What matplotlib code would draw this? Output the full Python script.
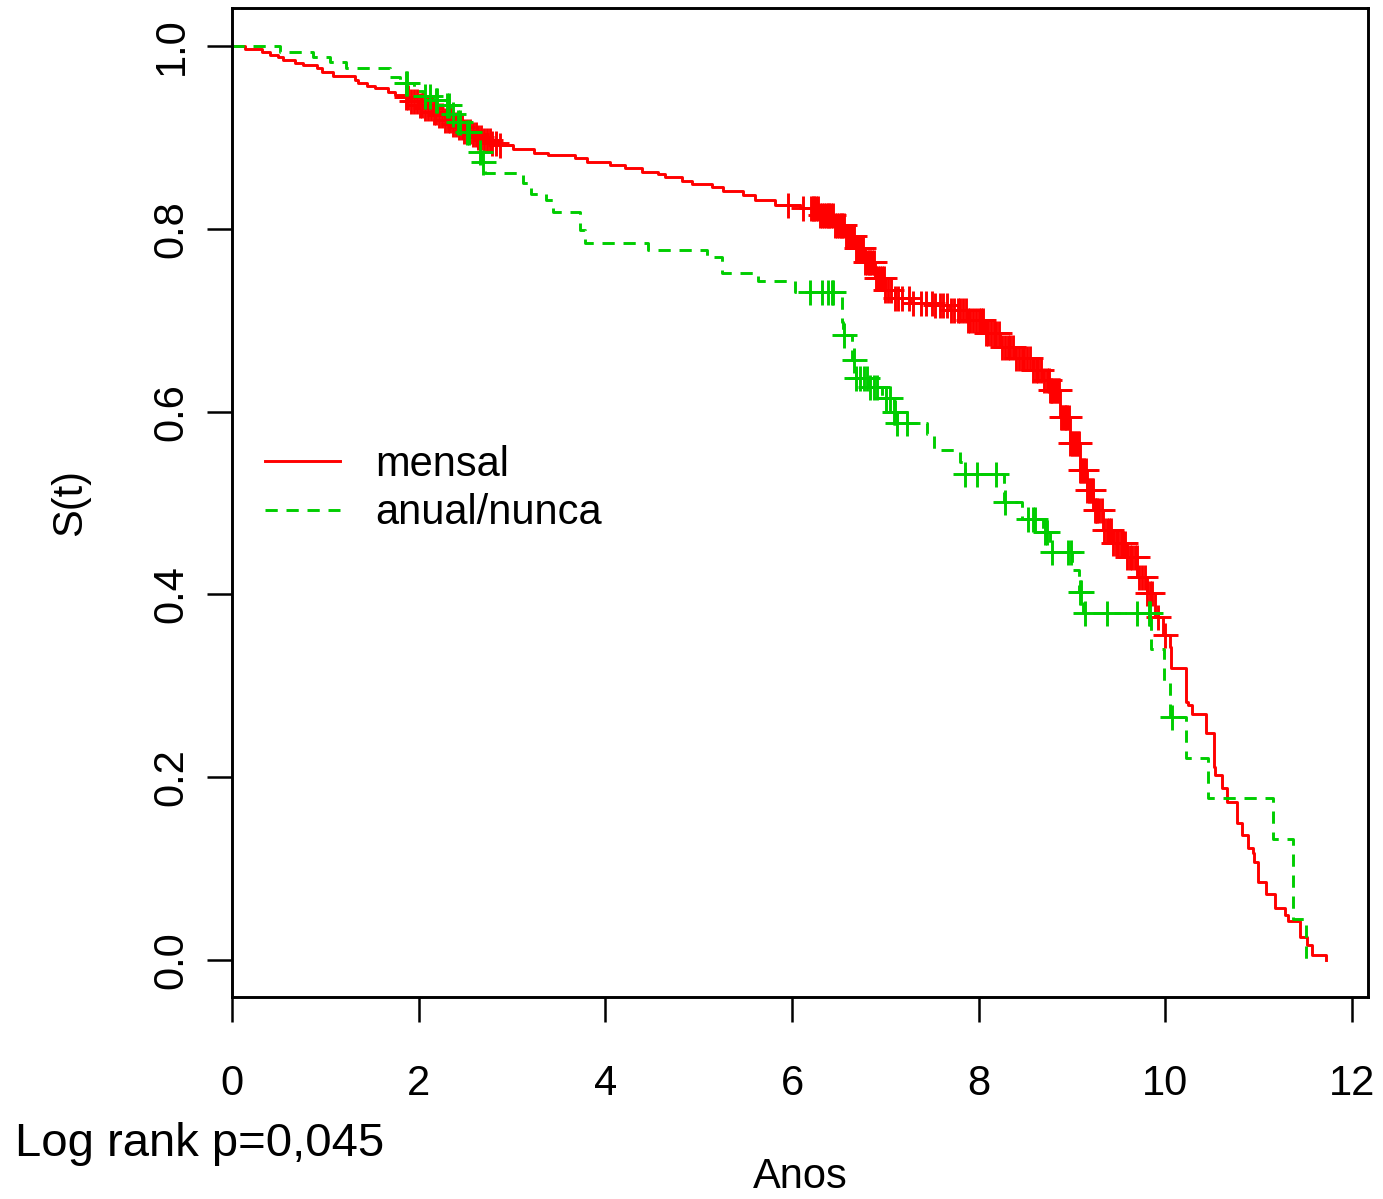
import numpy as np
import matplotlib
matplotlib.use("Agg")
import matplotlib.pyplot as plt

plt.rcParams['font.family'] = ['Liberation Sans', 'DejaVu Sans']

# ---------------- data ----------------
series_names = ["mensal", "anual/nunca"]

# mensal: event times (years) and survival after each event
mensal_t = [0.139, 0.318, 0.407, 0.496, 0.55, 0.675, 0.764, 0.907, 0.961, 1.086,
            1.318, 1.354, 1.443, 1.532, 1.675, 1.75,
            1.85, 1.92, 2.0, 2.07, 2.14, 2.21, 2.28, 2.35, 2.42, 2.49, 2.56, 2.63,
            2.70, 2.78, 2.87,
            3.014, 3.23, 3.39, 3.675, 3.80, 4.05, 4.21, 4.39, 4.567, 4.64, 4.82,
            4.925, 5.14, 5.264, 5.478, 5.60, 5.82,
            6.086, 6.30, 6.46, 6.57, 6.675, 6.78, 6.89, 7.0, 7.10, 7.26, 7.51, 7.69,
            7.87, 8.07, 8.23, 8.39, 8.58, 8.69, 8.76, 8.87, 8.98, 9.086, 9.157,
            9.225, 9.33, 9.44, 9.586, 9.693, 9.80, 9.889, 9.975, 10.05, 10.06,
            10.22, 10.24, 10.28, 10.436, 10.52, 10.53, 10.61, 10.66, 10.77, 10.82,
            10.886, 10.94, 10.95, 10.99, 11.08, 11.175, 11.28, 11.31, 11.44, 11.52,
            11.57, 11.72]
mensal_s = [0.9964, 0.9938, 0.9902, 0.9876, 0.9847, 0.9817, 0.9792, 0.9756, 0.9719, 0.9672,
            0.9628, 0.9599, 0.9562, 0.9537, 0.950, 0.9464,
            0.944, 0.940, 0.936, 0.932, 0.928, 0.924, 0.919, 0.915, 0.911, 0.907, 0.904, 0.900,
            0.897, 0.894, 0.8917,
            0.887, 0.8833, 0.8807, 0.877, 0.8734, 0.8698, 0.8662, 0.8625, 0.860, 0.857, 0.8526,
            0.849, 0.8454, 0.8417, 0.837, 0.832, 0.8257,
            0.8228, 0.815, 0.804, 0.792, 0.779, 0.764, 0.746, 0.733, 0.724, 0.719, 0.7166, 0.711,
            0.700, 0.686, 0.671, 0.659, 0.6455, 0.6346, 0.6236, 0.594, 0.5656, 0.536, 0.514,
            0.492, 0.470, 0.456, 0.441, 0.419, 0.4015, 0.375, 0.3556, 0.3425, 0.319,
            0.2826, 0.279, 0.269, 0.248, 0.2115, 0.2024, 0.188, 0.1732, 0.150, 0.1368,
            0.1222, 0.1167, 0.1075, 0.0857, 0.0722, 0.0569, 0.0492, 0.0427, 0.0255, 0.0164,
            0.0055, 0.0]
mensal_cens = [1.86, 1.89, 1.92, 1.95, 1.98, 2.01, 2.04, 2.07, 2.10, 2.13, 2.16, 2.19,
               2.22, 2.25, 2.28, 2.31, 2.34, 2.37, 2.40, 2.43, 2.46, 2.49, 2.52, 2.55,
               2.58, 2.61, 2.64, 2.67, 2.70, 2.73, 2.76, 2.79, 2.83, 2.87,
               5.96, 6.12, 6.20, 6.22, 6.24, 6.26, 6.28, 6.30, 6.32, 6.34, 6.36, 6.38,
               6.40, 6.42, 6.44, 6.46, 6.48, 6.50, 6.52, 6.54, 6.56, 6.58, 6.60, 6.62,
               6.64, 6.66, 6.68, 6.70, 6.72, 6.74, 6.76, 6.78, 6.80, 6.82, 6.84, 6.86,
               6.88, 6.90, 6.92, 6.94, 6.96, 6.98, 7.00, 7.03, 7.06, 7.10, 7.14, 7.18,
               7.25, 7.30, 7.38, 7.44, 7.50, 7.53, 7.58, 7.62, 7.66, 7.70, 7.74, 7.78,
               7.80, 7.83, 7.86, 7.88, 7.91, 7.94, 7.97, 8.00, 8.02, 8.05, 8.08, 8.10,
               8.13, 8.16, 8.19, 8.22, 8.25, 8.28, 8.31, 8.34, 8.37, 8.40, 8.43, 8.46,
               8.49, 8.52, 8.55, 8.58, 8.61, 8.64, 8.67, 8.70, 8.73, 8.75, 8.76, 8.77,
               8.79, 8.80, 8.82, 8.83, 8.85, 8.86, 8.88, 8.89, 8.91, 8.92, 8.94, 8.95,
               8.97, 8.98, 9.00, 9.01, 9.03, 9.04, 9.06, 9.07, 9.09, 9.10, 9.12, 9.13,
               9.15, 9.16, 9.18, 9.19, 9.21, 9.22, 9.24, 9.26, 9.27, 9.29, 9.32, 9.34,
               9.37, 9.39, 9.42, 9.44, 9.47, 9.49, 9.52, 9.54, 9.57, 9.59, 9.62, 9.64,
               9.67, 9.69, 9.72, 9.75, 9.78, 9.80, 9.83, 9.86, 9.92, 10.0]

# anual/nunca
anual_t = [0.514, 0.871, 1.05, 1.22, 1.693, 1.80, 1.95, 2.05, 2.15, 2.25, 2.34, 2.40,
           2.48, 2.58, 2.64, 2.68, 2.71, 3.12, 3.20, 3.36, 3.44, 3.73, 3.78, 4.46,
           5.086, 5.246, 5.64, 6.03, 6.53, 6.55, 6.64, 6.68, 6.82, 6.96, 7.09, 7.12,
           7.45, 7.52, 7.80, 7.85, 8.27, 8.46, 8.69, 8.76, 9.0, 9.07, 9.12, 9.84,
           9.986, 10.05, 10.22, 10.46, 11.157, 11.37, 11.507]
anual_s = [0.9938, 0.988, 0.983, 0.9756, 0.9664, 0.960, 0.951, 0.945, 0.941, 0.935, 0.926, 0.917,
           0.906, 0.897, 0.884, 0.873, 0.861, 0.850, 0.838, 0.831, 0.818, 0.7987, 0.7848, 0.7768,
           0.7695, 0.7513, 0.743, 0.731, 0.698, 0.684, 0.656, 0.637, 0.627, 0.6145, 0.600, 0.587,
           0.575, 0.558, 0.545, 0.532, 0.5014, 0.483, 0.4686, 0.4467, 0.4267, 0.403, 0.3793, 0.340,
           0.3045, 0.266, 0.2207, 0.1769, 0.132, 0.0445, 0.0]
anual_cens = [1.86, 1.88, 2.07, 2.12, 2.19, 2.20, 2.30, 2.33, 2.37, 2.42, 2.44, 2.52,
              2.54, 2.66, 2.69,
              6.19, 6.32, 6.39, 6.425, 6.44, 6.56, 6.66, 6.69, 6.73, 6.77, 6.80, 6.84,
              6.88, 6.91, 7.01, 7.05, 7.09, 7.10, 7.12, 7.23, 7.85, 7.98, 8.19, 8.28,
              8.53, 8.585, 8.60, 8.71, 8.73, 8.78, 8.96, 8.99, 9.086, 9.10, 9.14, 9.37,
              9.69, 9.82, 9.836, 10.07]

x_ticks = [0, 2, 4, 6, 8, 10, 12]
y_ticks = [0.0, 0.2, 0.4, 0.6, 0.8, 1.0]
y_ticklabels = ["0.0", "0.2", "0.4", "0.6", "0.8", "1.0"]

# ---------------- figure ----------------
W, H = 1383, 1199
fig = plt.figure(figsize=(W / 100, H / 100), dpi=100)
ax = fig.add_axes([232 / W, 1 - 997 / H, (1368 - 232) / W, (997 - 8) / H])

RED = "#FF0000"
GREEN = "#00CD00"


def surv_at(tt, ss, tc):
    tt = np.asarray(tt)
    ss = np.concatenate([[1.0], np.asarray(ss)])
    idx = np.searchsorted(tt, np.asarray(tc), side="right")
    return ss[idx]


mt = np.concatenate([[0.0], mensal_t])
ms = np.concatenate([[1.0], mensal_s])
at = np.concatenate([[0.0], anual_t])
as_ = np.concatenate([[1.0], anual_s])

l1, = ax.step(mt, ms, where="post", color=RED, lw=2.1, label=series_names[0])
l2, = ax.step(at, as_, where="post", color=GREEN, lw=2.1, dashes=(4.2, 3.0),
              label=series_names[1])

ax.plot(mensal_cens, surv_at(mensal_t, mensal_s, mensal_cens), ls="none", marker="+",
        ms=18, mew=2.1, color=RED)
ax.plot(anual_cens, surv_at(anual_t, anual_s, anual_cens), ls="none", marker="+",
        ms=18, mew=2.1, color=GREEN)

ax.set_xlim(0, 12.17)
ax.set_ylim(-0.0405, 1.0416)

ax.set_xticks(x_ticks)
ax.set_xticklabels([str(v) for v in x_ticks])
ax.set_yticks(y_ticks)
ax.set_yticklabels(y_ticklabels, rotation=90, va="center")
ax.tick_params(axis="both", direction="out", length=18, width=1.8, labelsize=30,
               colors="black")
ax.tick_params(axis="x", pad=30)
ax.tick_params(axis="y", pad=11)
for sp in ax.spines.values():
    sp.set_linewidth(2.1)
    sp.set_color("black")

leg = ax.legend(handles=[l1, l2], loc="center left", frameon=False, fontsize=30,
                bbox_to_anchor=(265 / W, 1 - 489 / H), bbox_transform=fig.transFigure,
                borderpad=0, borderaxespad=0, handlelength=1.8, handletextpad=0.84,
                labelspacing=0.2)

fig.text(70 / W, 1 - 502 / H, "S(t)", rotation=90, ha="center", va="center", fontsize=30)
fig.text(800 / W, 1 - 1177 / H, "Anos", ha="center", va="center", fontsize=30)
fig.text(15 / W, 1 - 1156 / H, "Log rank p=0,045", ha="left", va="baseline", fontsize=34)

fig.savefig("out.png", dpi=100, facecolor="white")
